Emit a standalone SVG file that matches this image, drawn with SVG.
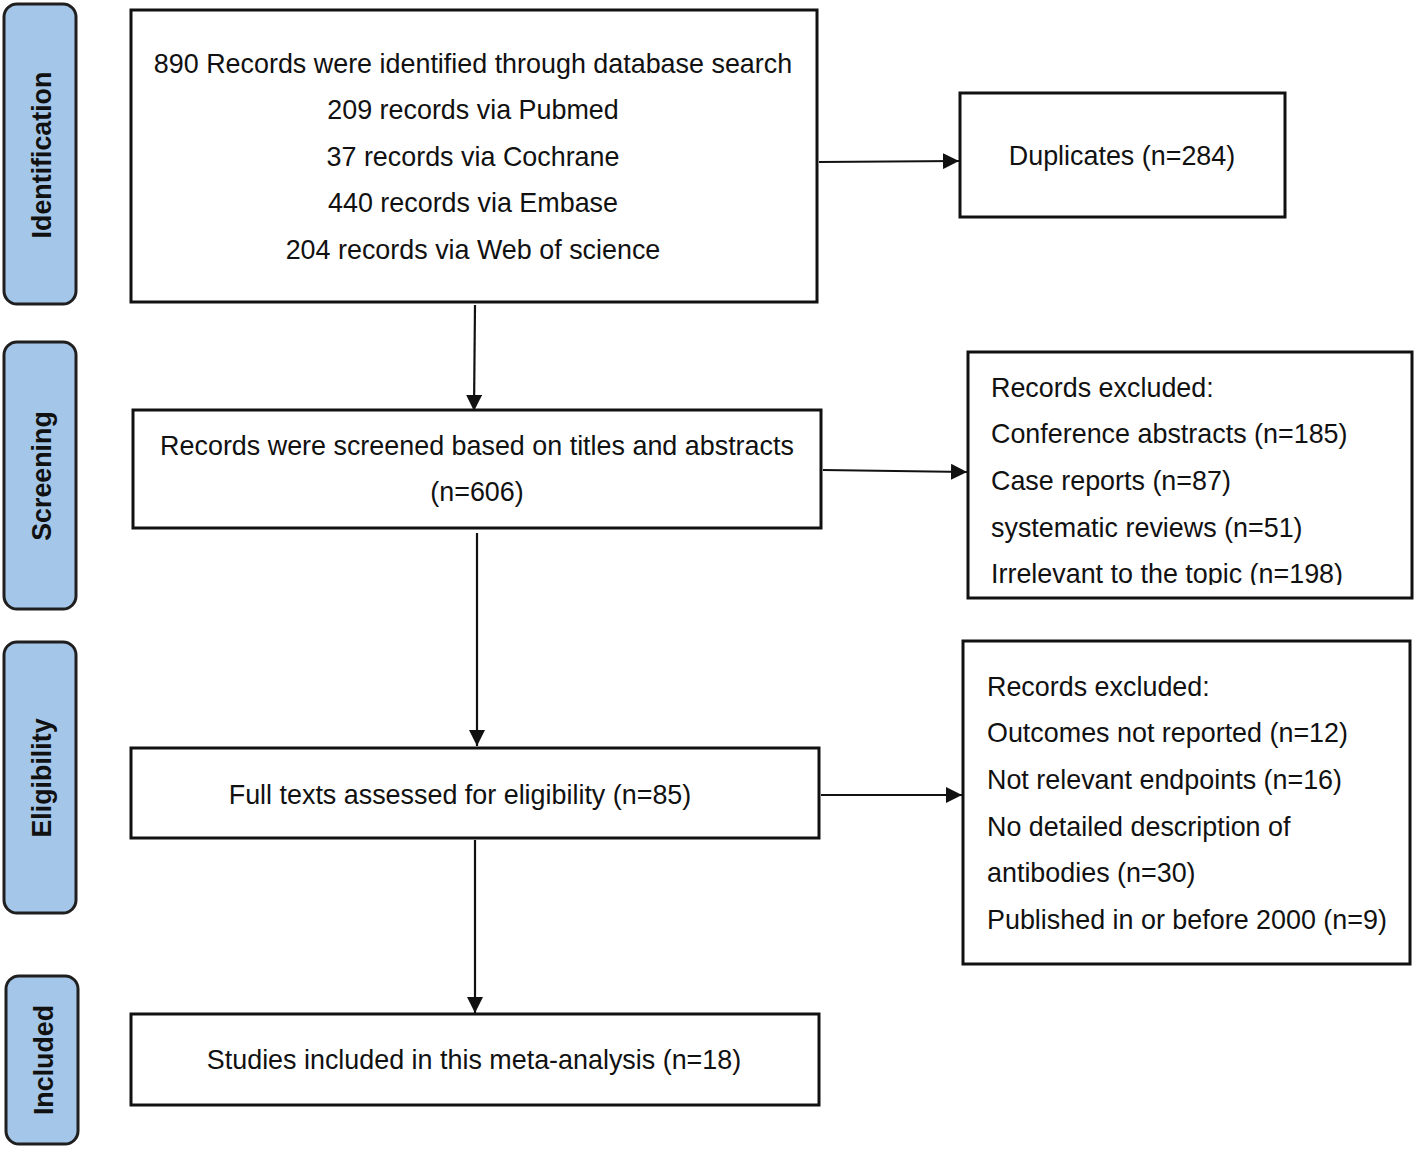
<svg xmlns="http://www.w3.org/2000/svg" width="1416" height="1149" viewBox="0 0 1416 1149">
<style>
.stage{fill:#a4c6e8;stroke:#1f1f1f;stroke-width:3}
.stxt{font-family:"Liberation Sans",Arial,sans-serif;font-weight:bold;font-size:26.8px;fill:#111;text-anchor:middle}
.box{fill:#fff;stroke:#111;stroke-width:3}
.t{font-family:"Liberation Sans",Arial,sans-serif;font-size:26.9px;fill:#111}
.c{text-anchor:middle}
</style>
<defs>
<marker id="arr" viewBox="0 0 16 16" refX="16" refY="8" markerWidth="16" markerHeight="16" markerUnits="userSpaceOnUse" orient="auto">
<path d="M0,0 L16,8 L0,16 Z" fill="#111"/>
</marker>
<clipPath id="clipEx1"><rect x="968" y="352" width="444" height="233"/></clipPath>
</defs>
<rect width="1416" height="1149" fill="#fff"/>

<g id="stage-identification">
<rect class="stage" x="4" y="4" width="72" height="300" rx="13"/>
<text class="stxt" transform="translate(51,155) rotate(-90)">Identification</text>
</g>
<g id="stage-screening">
<rect class="stage" x="4" y="342" width="72" height="267" rx="13"/>
<text class="stxt" transform="translate(51,476) rotate(-90)">Screening</text>
</g>
<g id="stage-eligibility">
<rect class="stage" x="4" y="642" width="72" height="271" rx="13"/>
<text class="stxt" transform="translate(51,778) rotate(-90)">Eligibility</text>
</g>
<g id="stage-included">
<rect class="stage" x="6" y="976" width="72" height="168" rx="13"/>
<text class="stxt" transform="translate(53,1060) rotate(-90)">Included</text>
</g>

<g id="identified">
<rect class="box" x="131" y="10" width="686" height="292"/>
<text class="t c" x="473" y="73">890 Records were identified through database search</text>
<text class="t c" x="473" y="119">209 records via Pubmed</text>
<text class="t c" x="473" y="166">37 records via Cochrane</text>
<text class="t c" x="473" y="212">440 records via Embase</text>
<text class="t c" x="473" y="259">204 records via Web of science</text>
</g>

<g id="duplicates">
<rect class="box" x="960" y="93" width="325" height="124"/>
<text class="t c" x="1122" y="165">Duplicates (n=284)</text>
</g>

<g id="screened">
<rect class="box" x="133" y="410" width="688" height="118"/>
<text class="t c" x="477" y="455">Records were screened based on titles and abstracts</text>
<text class="t c" x="477" y="501">(n=606)</text>
</g>

<g id="excluded-screening">
<rect class="box" x="968" y="352" width="444" height="246"/>
<g clip-path="url(#clipEx1)">
<text class="t" x="991" y="397">Records excluded:</text>
<text class="t" x="991" y="443">Conference abstracts (n=185)</text>
<text class="t" x="991" y="490">Case reports (n=87)</text>
<text class="t" x="991" y="537">systematic reviews (n=51)</text>
<text class="t" x="991" y="583">Irrelevant to the topic (n=198)</text>
</g>
</g>

<g id="eligibility">
<rect class="box" x="131" y="748" width="688" height="90"/>
<text class="t c" x="460" y="804">Full texts assessed for eligibility (n=85)</text>
</g>

<g id="excluded-eligibility">
<rect class="box" x="963" y="641" width="447" height="323"/>
<text class="t" x="987" y="696">Records excluded:</text>
<text class="t" x="987" y="742">Outcomes not reported (n=12)</text>
<text class="t" x="987" y="789">Not relevant endpoints (n=16)</text>
<text class="t" x="987" y="836">No detailed description of</text>
<text class="t" x="987" y="882">antibodies (n=30)</text>
<text class="t" x="987" y="929">Published in or before 2000 (n=9)</text>
</g>

<g id="included">
<rect class="box" x="131" y="1014" width="688" height="91"/>
<text class="t c" x="474" y="1069">Studies included in this meta-analysis (n=18)</text>
</g>

<g id="connectors" stroke="#111" stroke-width="2.2" fill="none">
<path d="M819,162 L959,161" marker-end="url(#arr)"/>
<path d="M475,305 L474,411" marker-end="url(#arr)"/>
<path d="M823,470 L967,472" marker-end="url(#arr)"/>
<path d="M477,533 L477,746" marker-end="url(#arr)"/>
<path d="M821,795 L962,795" marker-end="url(#arr)"/>
<path d="M475,840 L475,1013" marker-end="url(#arr)"/>
</g>
</svg>
